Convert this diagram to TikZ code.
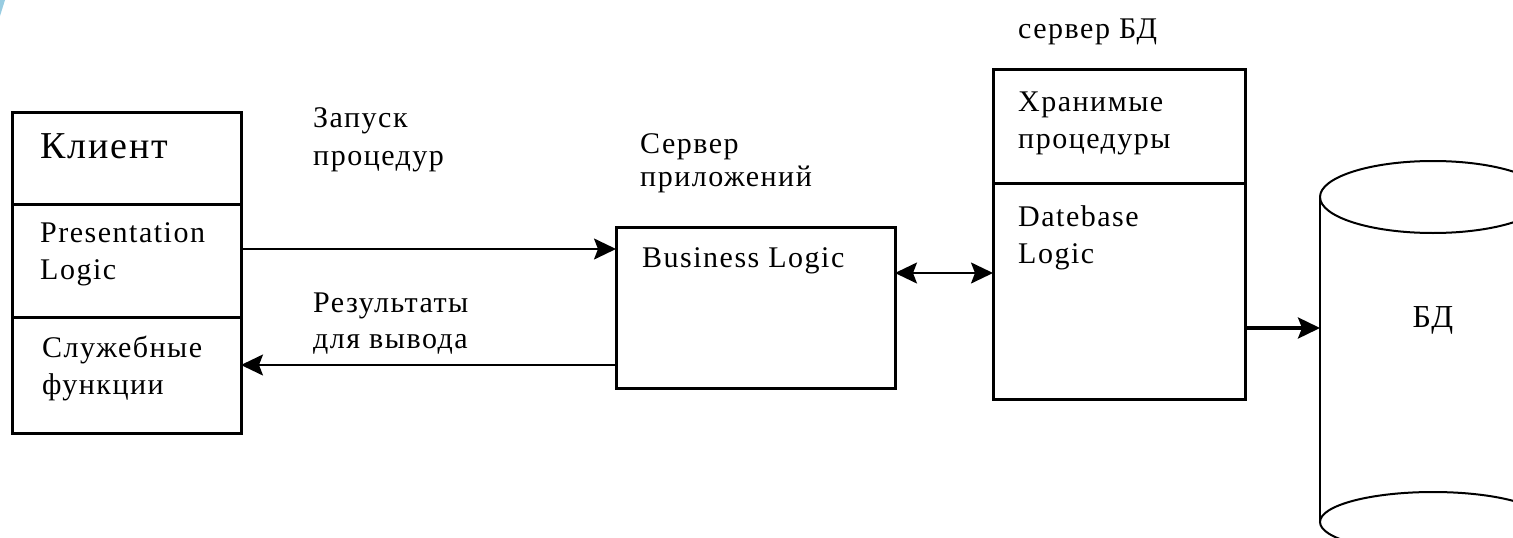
\documentclass[tikz,border=0pt]{standalone}
\usepackage{fontspec}
\setmainfont[LetterSpace=5]{Liberation Serif}
\usetikzlibrary{arrows.meta, positioning}
\tikzstyle{compart} = [rectangle, draw=black, line width=3pt, outer sep=0pt, inner sep=0pt]
\tikzstyle{txt} = [inner sep=0pt, align=left, anchor=base west, font=\fontsize{30}{37}\selectfont]
\tikzstyle{arrow} = [line width=2pt, -{Stealth[length=22pt, width=21pt, inset=4pt]}]
\tikzstyle{dblarrow} = [line width=2pt, {Stealth[length=22pt, width=21pt, inset=4pt]}-{Stealth[length=22pt, width=21pt, inset=4pt]}]

\begin{document}
\begin{tikzpicture}[x=1pt, y=-1pt]
    \useasboundingbox (0,0) rectangle (1513,538);
    \clip (0,0) rectangle (1513,538);
    \fill[cyan!50!teal!45] (0,0) -- (5,0) -- (0,16) -- cycle;

    % Client
    \node (client) [compart, minimum width=229pt, minimum height=92pt, anchor=north west] at (12,112) {};
    \node (pres) [compart, minimum width=229pt, minimum height=113pt, below=0pt of client] {};
    \node (serv) [compart, minimum width=229pt, minimum height=116pt, below=0pt of pres] {};
    \node (clienttxt) [txt, font=\fontsize{38}{44}\selectfont] at (40,158) {Клиент};
    \node (prestxt) [txt] at (40,279) {Presentation\\Logic};
    \node (servtxt) [txt] at (42,394) {Служебные\\функции};

    % Application server
    \node (app) [compart, minimum width=279pt, minimum height=161pt, anchor=north west] at (616,227) {};
    \node (apptxt) [txt] at (642,267) {Business Logic};
    \node (apptitle) [txt, font=\fontsize{30}{33}\selectfont] at (640,186) {Сервер\\приложений};

    % DB server
    \node (proc) [compart, minimum width=252pt, minimum height=114pt, anchor=north west] at (993,69) {};
    \node (dblogic) [compart, minimum width=252pt, minimum height=216pt, below=0pt of proc] {};
    \node (proctxt) [txt] at (1018,148) {Хранимые\\процедуры};
    \node (dblogictxt) [txt] at (1018,263) {Datebase\\Logic};
    \node (dbtitle) [txt] at (1018,38) {сервер БД};

    % Database
    \draw [line width=2pt] (1433,197) ellipse [x radius=113pt, y radius=36pt];
    \draw [line width=2pt] (1320,197) -- (1320,522);
    \draw [line width=2pt] (1433,522) ellipse [x radius=113pt, y radius=30pt];
    \node (db) [txt, anchor=base, font=\fontsize{32}{38}\selectfont] at (1433,327) {БД};
    \coordinate (dbwall) at (1320,328);

    % Arrow labels
    \node (calltxt) [txt, font=\fontsize{30}{38}\selectfont] at (313,165) {Запуск\\процедур};
    \node (restxt) [txt, font=\fontsize{30}{36}\selectfont] at (313,348) {Результаты\\для вывода};

    % Arrows
    \draw [arrow] ([yshift=11.5pt]pres.east) -- ([yshift=11.5pt]pres.east -| app.west);
    \draw [arrow] ([yshift=10pt]serv.east -| app.west) -- ([yshift=10pt]serv.east);
    \draw [dblarrow] ([yshift=34.5pt]app.east) -- ([yshift=34.5pt]app.east -| dblogic.west);
    \draw [arrow, line width=3.5pt] ([yshift=-37pt]dblogic.east) -- (dbwall);
\end{tikzpicture}
\end{document}
